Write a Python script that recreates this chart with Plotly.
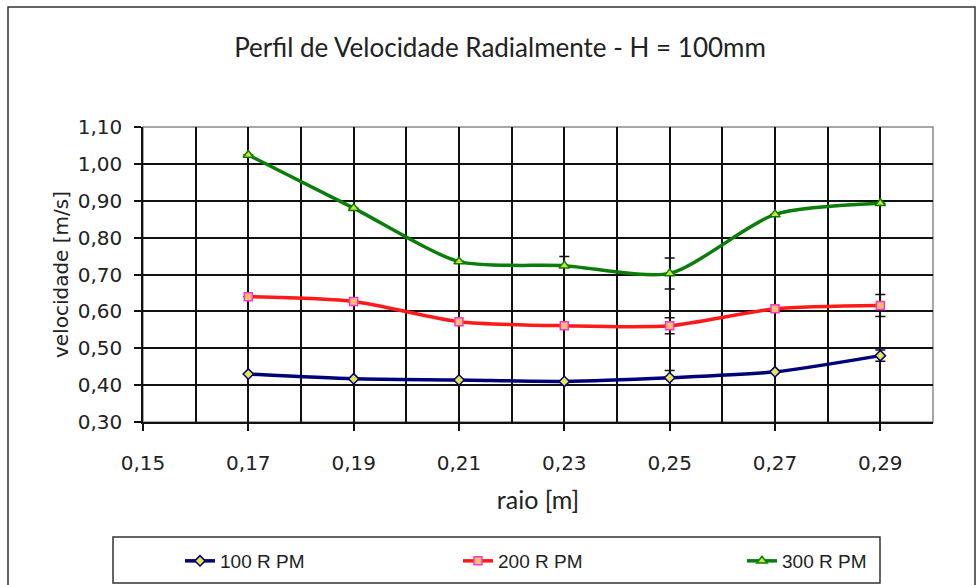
import plotly.graph_objects as go

# radial positions [m]
raio = [0.17, 0.19, 0.21, 0.23, 0.25, 0.27, 0.29]

# velocity profiles [m/s]
v_100 = [0.430, 0.417, 0.414, 0.410, 0.420, 0.436, 0.480]
v_200 = [0.640, 0.627, 0.572, 0.561, 0.561, 0.607, 0.616]
v_300 = [1.024, 0.880, 0.735, 0.724, 0.703, 0.863, 0.893]

# measurement uncertainty [m/s]
e_100 = [0.0, 0.0, 0.0, 0.0, 0.020, 0.0, 0.015]
e_200 = [0.0, 0.0, 0.0, 0.0, 0.022, 0.0, 0.030]
e_300 = [0.0, 0.0, 0.0, 0.025, 0.042, 0.0, 0.0]

series_names = ["100 R PM", "200 R PM", "300 R PM"]
x_ticks = [0.15, 0.17, 0.19, 0.21, 0.23, 0.25, 0.27, 0.29]
y_ticks = [0.30, 0.40, 0.50, 0.60, 0.70, 0.80, 0.90, 1.00, 1.10]

styles = [
    dict(color="#00007a", symbol="diamond", fill="#e8e84a", size=8,
         edge="#00007a"),
    dict(color="#ff1a1a", symbol="square", fill="#ffc070", size=8,
         edge="#ff33cc"),
    dict(color="#0a7d0a", symbol="triangle-up", fill="#c8e632", size=9,
         edge="#0a7d0a"),
]
legend_ids = ["legend", "legend2", "legend3"]

fig = go.Figure()
for name, ys, errs, st, lg in zip(series_names, [v_100, v_200, v_300],
                                  [e_100, e_200, e_300], styles, legend_ids):
    fig.add_trace(go.Scatter(
        x=raio, y=ys, name=name, mode="lines+markers", legend=lg,
        line=dict(color=st["color"], width=3.5, shape="spline", smoothing=0.7),
        marker=dict(symbol=st["symbol"], size=st["size"], color=st["fill"],
                    line=dict(color=st["edge"], width=1.5)),
        error_y=dict(type="data", array=errs, visible=True, color="#111111",
                     thickness=1.5, width=5),
    ))

# plot area geometry (pixels) used to place frame shapes in paper units
L, R, T, B = 143, 933, 127, 422
W, H = R - L, B - T


def px(xp):
    return (xp - L) / W


def py(yp):
    return (B - yp) / H


shapes = [
    # outer chart frame
    dict(type="rect", xref="paper", yref="paper", x0=px(8), x1=px(975),
         y0=py(600), y1=py(7), line=dict(color="#333333", width=1.5),
         layer="below"),
    # plot area border
    dict(type="rect", xref="paper", yref="paper", x0=0, x1=1, y0=0, y1=1,
         line=dict(color="#8a8a8a", width=1.5), layer="below"),
    # legend frame
    dict(type="rect", xref="paper", yref="paper", x0=px(113), x1=px(880),
         y0=py(583), y1=py(537), line=dict(color="#333333", width=1.5)),
]

tick_font = dict(family="DejaVu Sans, sans-serif", size=20, color="#222222")
label_font = dict(family="Lato, Open Sans, sans-serif", size=25,
                  color="#222222")
legend_font = dict(family="Liberation Sans, Arial, sans-serif", size=19,
                   color="#222222")


def legend_box(x_px):
    return dict(orientation="h", x=px(x_px), xanchor="left", y=py(561),
                yanchor="middle", itemwidth=30, bgcolor="rgba(0,0,0,0)",
                borderwidth=0, font=legend_font)


fig.update_layout(
    width=978, height=585,
    margin=dict(l=L, r=978 - R, t=T, b=585 - B, pad=0, autoexpand=False),
    paper_bgcolor="white", plot_bgcolor="white",
    separators=", ",
    title=dict(text="Perfil de Velocidade Radialmente - H = 100mm",
               x=500 / 978, xref="container", xanchor="center",
               y=1 - 48 / 585, yanchor="middle",
               font=dict(family="Lato, Open Sans, sans-serif", size=26,
                         color="#222222")),
    xaxis=dict(
        range=[0.15, 0.30], tickvals=x_ticks, tickformat=".2f",
        automargin=False,
        showgrid=True, gridcolor="#111111", gridwidth=1.5,
        minor=dict(dtick=0.01, tick0=0.15, showgrid=True,
                   gridcolor="#111111", gridwidth=1.5, ticks=""),
        ticks="outside", ticklen=7, tickwidth=1.5, tickcolor="#111111",
        showline=True, linecolor="#111111", linewidth=1.5,
        tickfont=tick_font, ticklabelstandoff=15, zeroline=False,
        title=dict(text="raio [m]", standoff=18, font=label_font),
    ),
    yaxis=dict(
        range=[0.30, 1.10], tickvals=y_ticks, tickformat=".2f",
        automargin=False,
        showgrid=True, gridcolor="#111111", gridwidth=1.5,
        ticks="outside", ticklen=7, tickwidth=1.5, tickcolor="#111111",
        showline=True, linecolor="#111111", linewidth=1.5,
        tickfont=tick_font, ticklabelstandoff=8, zeroline=False,
        title=dict(text="velocidade [m/s]", standoff=4,
                   font=dict(family="DejaVu Sans, sans-serif", size=20,
                             color="#222222")),
    ),
    legend=legend_box(180),
    legend2=legend_box(458),
    legend3=legend_box(742),
    shapes=shapes,
    showlegend=True,
)

fig.write_html("out.html")
